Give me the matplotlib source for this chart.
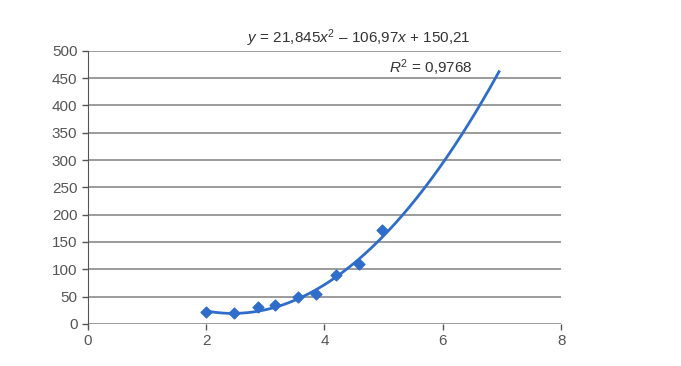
import matplotlib
matplotlib.use("Agg")
import matplotlib.pyplot as plt
import numpy as np

x_vals = [2.0, 2.47, 2.88, 3.17, 3.56, 3.86, 4.2, 4.58, 4.98]
y_vals = [22, 20, 31, 35, 49, 55, 90, 110, 172]
coef = [21.845, -106.97, 150.21]
r2_text = "0,9768"
x_ticks = [0, 2, 4, 6, 8]
y_ticks = [0, 50, 100, 150, 200, 250, 300, 350, 400, 450, 500]

plt.rcParams['font.family'] = ['Liberation Sans', 'DejaVu Sans']
plt.rcParams['mathtext.fontset'] = 'custom'
plt.rcParams['mathtext.rm'] = 'Liberation Sans'
plt.rcParams['mathtext.it'] = 'Liberation Sans:italic'
fig = plt.figure(figsize=(6.81, 3.66), dpi=100)
ax = fig.add_axes([0.129, 0.115, 0.695, 0.746])

blue = '#2F6DCB'
xs = np.linspace(2.0, 6.95, 200)
ax.plot(xs, np.polyval(coef, xs), color=blue, lw=2.0, zorder=3)
ax.scatter(x_vals, y_vals, marker='D', s=30, color=blue, zorder=4)

ax.set_xlim(0, 8)
ax.set_ylim(0, 500)
ax.set_xticks(x_ticks)
ax.set_yticks(y_ticks)
ax.yaxis.grid(True, color='#8a8a8a', lw=1.2)
ax.set_axisbelow(True)
for s in ['top', 'right', 'bottom']:
    ax.spines[s].set_visible(False)
ax.spines['left'].set_color('#555555')
ax.tick_params(axis='both', colors='#555555', labelcolor='#555555', labelsize=11, length=4, width=1)
ax.tick_params(axis='x', pad=3)

ax.text(4.58, 503, r"$y$ = 21,845$x^2$ – 106,97$x$ + 150,21", ha='center', va='bottom',
        fontsize=11, color='#333333')
ax.text(6.5, 469, r"$R^2$ = " + r2_text, ha='right', va='center', fontsize=11, color='#333333')

fig.savefig("out.png", dpi=100)
